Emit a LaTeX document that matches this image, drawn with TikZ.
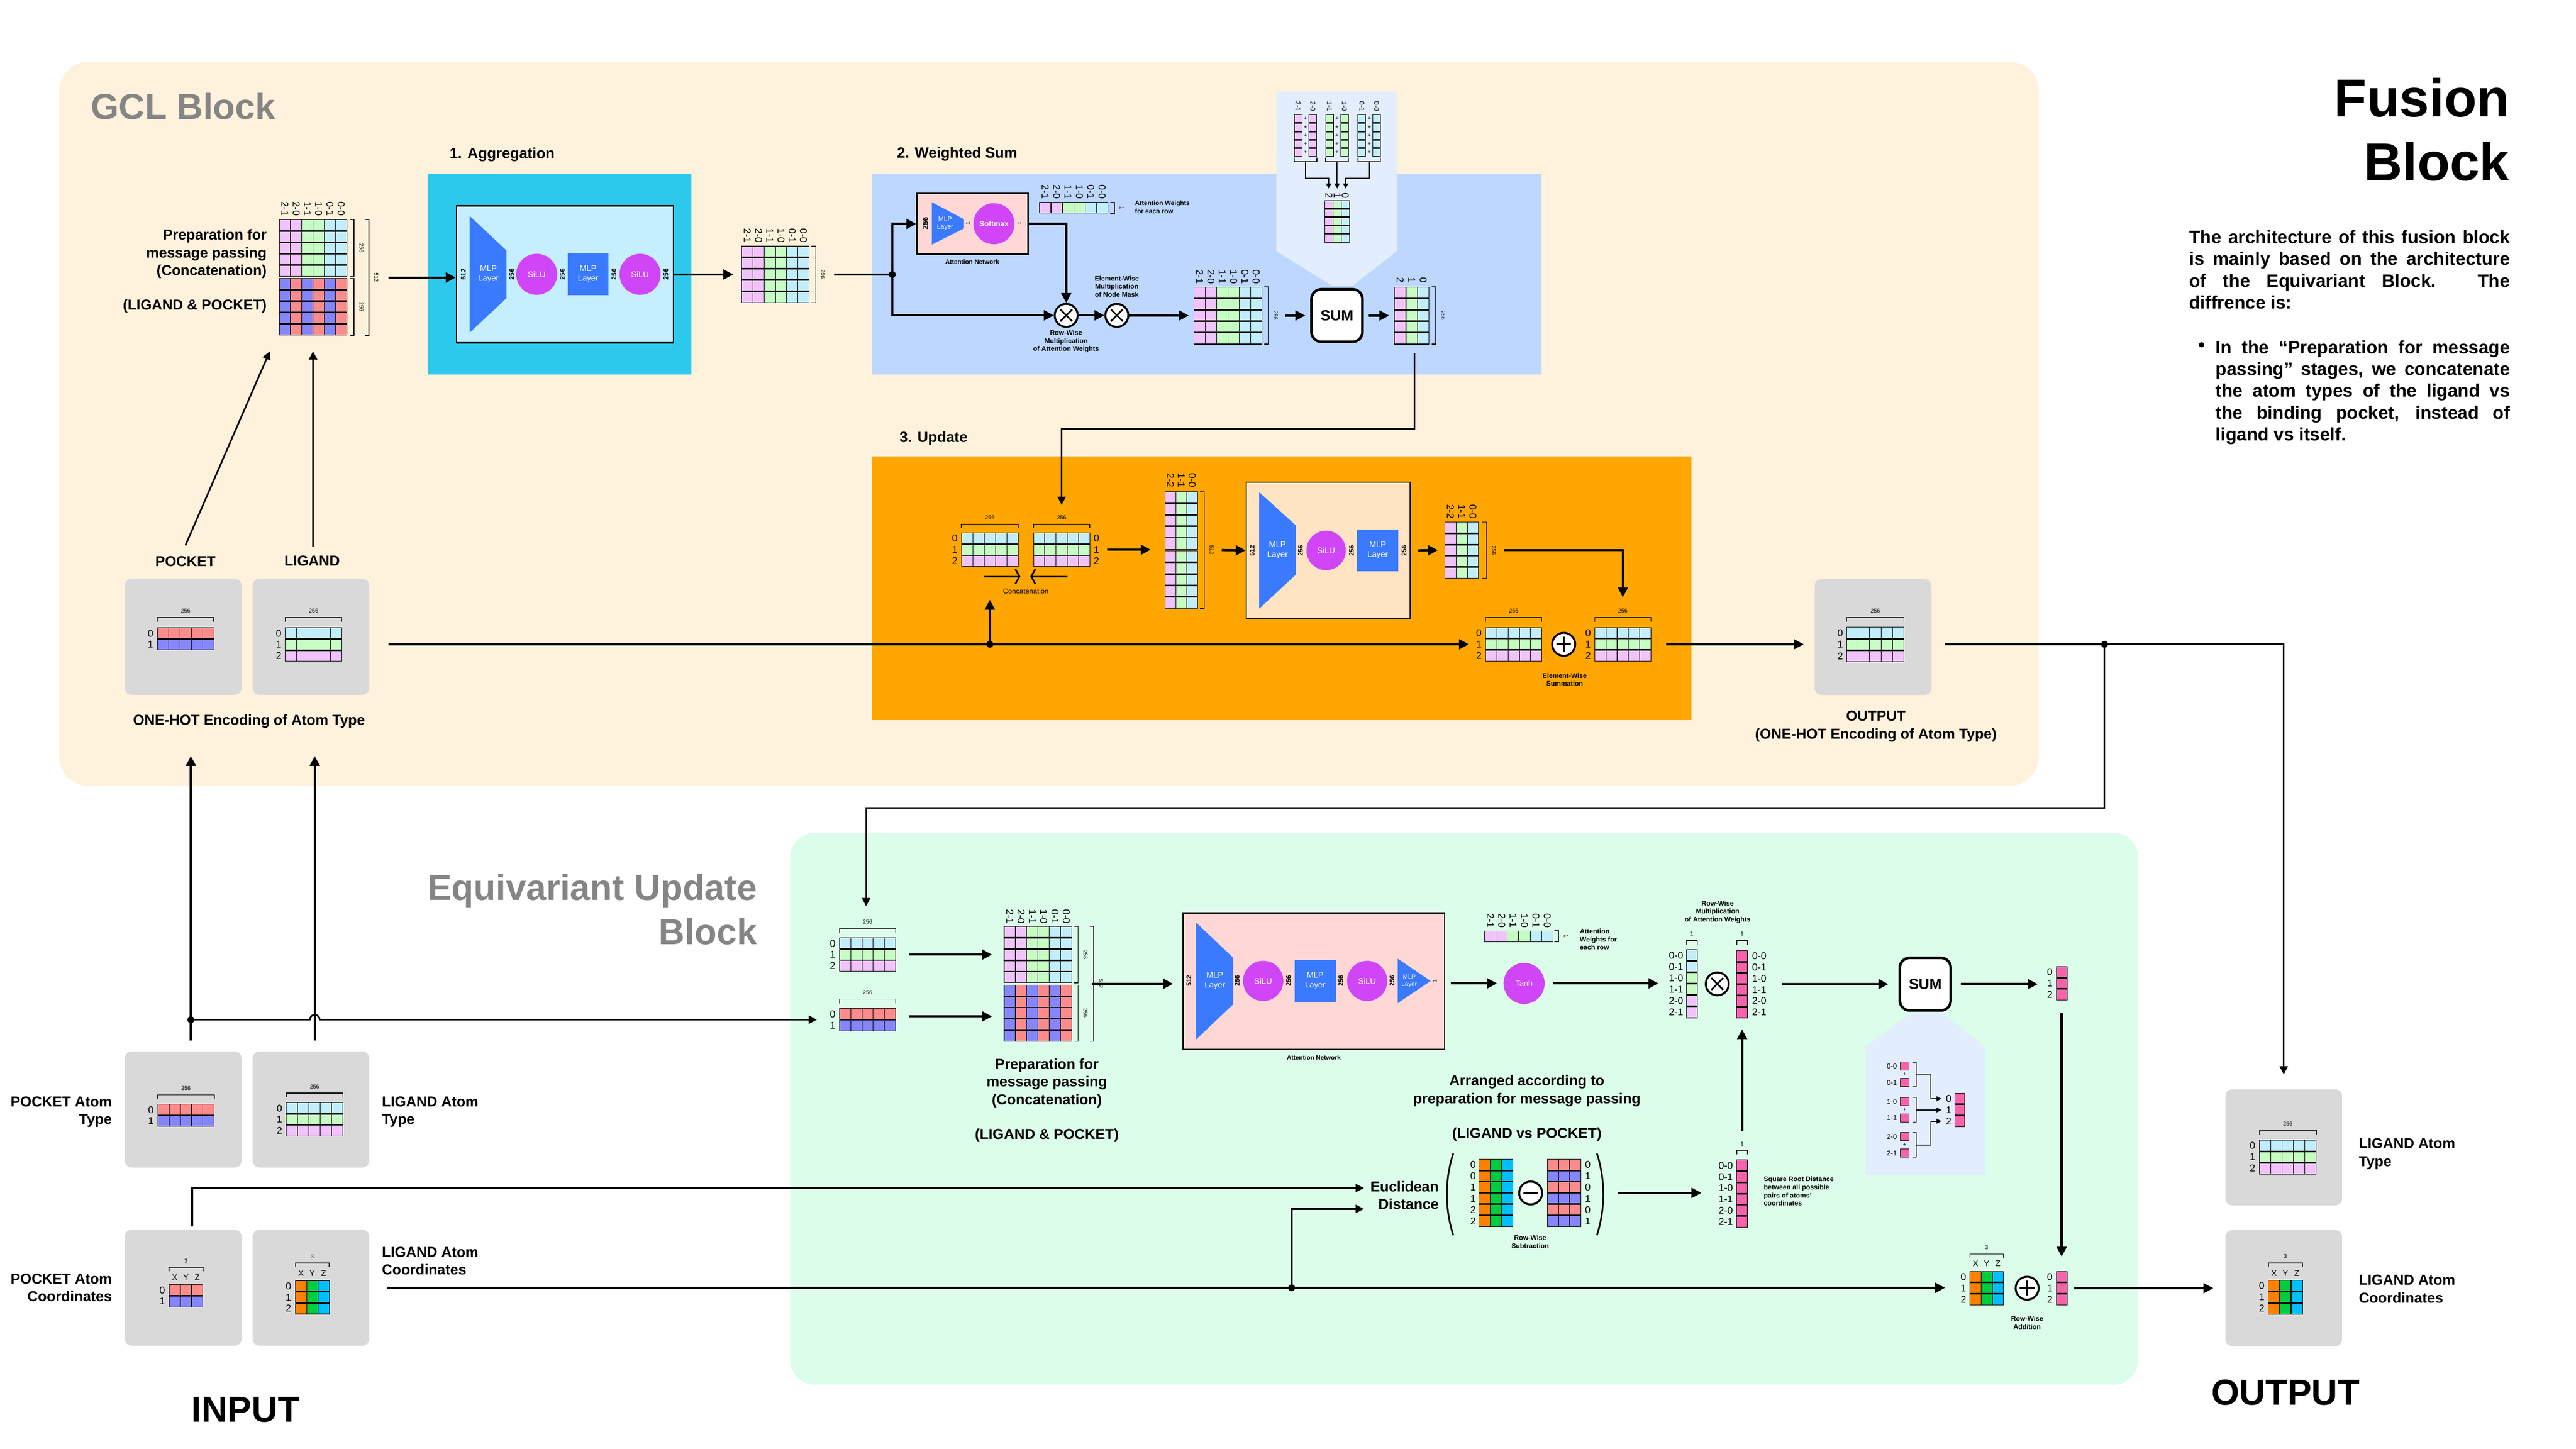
\documentclass[tikz,border=0pt]{standalone}
\usepackage{fontspec}
\setmainfont{Liberation Sans}
\usetikzlibrary{arrows.meta,calc,fit,positioning}

\definecolor{gclBg}{HTML}{FFF2DC}
\definecolor{eqBg}{HTML}{DCFDE9}
\definecolor{aggCyan}{HTML}{2DC9EC}
\definecolor{aggInnerC}{HTML}{C5EEFF}
\definecolor{wsBlue}{HTML}{BDD7FE}
\definecolor{panelBlue}{HTML}{E2EDFE}
\definecolor{updOrange}{HTML}{FFA600}
\definecolor{updPeach}{HTML}{FFE3C3}
\definecolor{attPink}{HTML}{FFD8D6}
\definecolor{mlpBlue}{HTML}{3A7AFE}
\definecolor{siluPurple}{HTML}{D046F6}
\definecolor{cPink}{HTML}{F0C4FA}
\definecolor{cGreen}{HTML}{C6FDC3}
\definecolor{cCyan}{HTML}{C2EEFB}
\definecolor{cBlue}{HTML}{8686FC}
\definecolor{cRed}{HTML}{FC8C8C}
\definecolor{xOrange}{HTML}{FF8000}
\definecolor{yGreen}{HTML}{00CC40}
\definecolor{zCyan}{HTML}{00BFFF}
\definecolor{hotPink}{HTML}{F862AA}
\definecolor{boxGray}{HTML}{D9D9D9}
\definecolor{titleGray}{HTML}{858585}

% matrix coloured by column: name, left, top, cell width, cell height, rows, column colours
\newcommand{\colMatrix}[7]{%
  \foreach \cellColor [count=\ci from 0] in {#7} {
    \foreach \ri in {1,...,#6} {
      \filldraw[matCell, fill=\cellColor] ({#2+\ci*#4},{#3+(\ri-1)*#5}) rectangle ++(#4,#5);
      \ifnum\ri>1 \draw[rowSep] ({#2+\ci*#4},{#3+(\ri-1)*#5}) -- ++(#4,0);\fi
    }
    \coordinate (#1-se) at ({#2+(\ci+1)*#4},{#3+#6*#5});
  }
  \coordinate (#1-nw) at (#2,#3);
  \node[fit=(#1-nw)(#1-se), inner sep=0pt] (#1) {};
}
% matrix coloured by row: name, left, top, cell width, cell height, columns, row colours
\newcommand{\rowMatrix}[7]{%
  \foreach \cellColor [count=\ri from 0] in {#7} {
    \foreach \ci in {1,...,#6} {
      \filldraw[matCell, fill=\cellColor] ({#2+(\ci-1)*#4},{#3+\ri*#5}) rectangle ++(#4,#5);
      \ifnum\ri>0 \draw[rowSep] ({#2+(\ci-1)*#4},{#3+\ri*#5}) -- ++(#4,0);\fi
    }
    \coordinate (#1-se) at ({#2+#6*#4},{#3+(\ri+1)*#5});
  }
  \coordinate (#1-nw) at (#2,#3);
  \node[fit=(#1-nw)(#1-se), inner sep=0pt] (#1) {};
}
\newcommand{\colLabels}[5]{%
  \foreach \lab [count=\k from 0] in {#5} {\node[pairLabel] (#1-lab\k) at ({#2+(\k+0.5)*#4},#3) {\lab};}
}
\newcommand{\rowLabels}[6]{%
  \foreach \lab [count=\k from 0] in {#6} {\node[idx, anchor=#5] (#1-idx\k) at (#2,{#3+(\k+0.5)*#4}) {\lab};}
}
\newcommand{\axisLabels}[4]{%
  \foreach \ax [count=\k from 0] in {X,Y,Z} {\node[idx, font=\fontsize{5}{5}\selectfont] (#1-ax\k) at ({#2+(\k+0.5)*#4},#3) {\ax};}
}
\newcommand{\vBracket}[5]{%
  \draw[brak] ({#2-2.5},#3) -- (#2,#3) -- (#2,#4) -- ({#2-2.5},#4);
  \node[dimLabel, rotate=-90] (#1) at ({#2+4.5},{(#3+#4)/2}) {#5};
}
\newcommand{\hBracket}[5]{%
  \draw[brak] (#2,{#4+2.5}) -- (#2,#4) -- (#3,#4) -- (#3,{#4+2.5});
  \node[dimLabel] (#1) at ({(#2+#3)/2},{#4-4}) {#5};
}

\begin{document}
\begin{tikzpicture}[x=1pt, y=-1pt, >={Triangle[length=6pt,width=6pt]}]

    \tikzstyle{arr}=[->, line width=1.4pt]
    \tikzstyle{thinArr}=[->, line width=1pt, >={Triangle[length=5pt,width=5pt]}]
    \tikzstyle{smallArr}=[->, line width=0.6pt, >={Triangle[length=3pt,width=3pt]}]
    \tikzstyle{concatArr}=[-{Straight Barb[length=2.5pt,width=9pt]}, line width=1pt]
    \tikzstyle{matCell}=[draw=black, line width=0.35pt]
    \tikzstyle{rowSep}=[draw=black, line width=0.9pt]
    \tikzstyle{brak}=[line width=0.45pt]
    \tikzstyle{dimLabel}=[font=\fontsize{3.4}{4}\selectfont, inner sep=0pt]
    \tikzstyle{pairLabel}=[font=\fontsize{6}{6}\selectfont, rotate=-90, anchor=east, inner sep=0pt]
    \tikzstyle{idx}=[font=\fontsize{6}{6}\selectfont, inner sep=0pt]
    \tikzstyle{bigTitle}=[font=\fontsize{22}{26}\selectfont\bfseries, inner sep=0pt]
    \tikzstyle{stepTitle}=[font=\fontsize{9}{10}\selectfont\bfseries, anchor=west, inner sep=0pt]
    \tikzstyle{captionText}=[font=\fontsize{8.8}{10.8}\selectfont\bfseries, align=center, inner sep=0pt]
    \tikzstyle{noteText}=[font=\fontsize{4.1}{4.9}\selectfont\bfseries, align=center, inner sep=0pt]
    \tikzstyle{layerDim}=[font=\fontsize{4}{4}\selectfont\bfseries, rotate=90, inner sep=0pt]
    \tikzstyle{layerText}=[font=\fontsize{5}{6}\selectfont, text=white, align=center, inner sep=0pt]
    \tikzstyle{siluNode}=[circle, fill=siluPurple, minimum size=25pt, inner sep=0pt, font=\fontsize{5}{6}\selectfont, text=white]
    \tikzstyle{mlpSquare}=[rectangle, fill=mlpBlue, minimum width=25pt, minimum height=25.4pt, inner sep=0pt, font=\fontsize{5}{6}\selectfont, text=white, align=center]
    \tikzstyle{sumBox}=[rectangle, rounded corners=6pt, draw=black, line width=1.6pt, fill=white, minimum width=31pt, minimum height=32pt, font=\fontsize{9}{9}\selectfont\bfseries]
    \tikzstyle{atomBox}=[rectangle, rounded corners=4pt, fill=boxGray, minimum width=71pt, minimum height=70.6pt, inner sep=0pt]
    \tikzstyle{netBox}=[rectangle, draw=black, line width=0.8pt, inner sep=0pt]
    \tikzstyle{opCircle}=[circle, draw=black, line width=1.2pt, fill=white, minimum size=14pt, inner sep=0pt]
    \tikzstyle{timesOp}=[opCircle, path picture={\draw[line width=1pt] ([shift={(-3.6pt,-3.6pt)}]path picture bounding box.center) -- ([shift={(3.6pt,3.6pt)}]path picture bounding box.center) ([shift={(-3.6pt,3.6pt)}]path picture bounding box.center) -- ([shift={(3.6pt,-3.6pt)}]path picture bounding box.center);}]
    \tikzstyle{plusOp}=[opCircle, path picture={\draw[line width=1pt] ([xshift=-4.5pt]path picture bounding box.center) -- ([xshift=4.5pt]path picture bounding box.center) ([yshift=-4.5pt]path picture bounding box.center) -- ([yshift=4.5pt]path picture bounding box.center);}]
    \tikzstyle{minusOp}=[opCircle, path picture={\draw[line width=1.4pt] ([xshift=-4.5pt]path picture bounding box.center) -- ([xshift=4.5pt]path picture bounding box.center);}]
    \tikzstyle{joinDot}=[circle, fill=black, minimum size=4.2pt, inner sep=0pt]

    % Canvas
    \fill[white] (0,0) rectangle (1568,882);

    % ================= GCL block =================
    \fill[gclBg, rounded corners=18pt] (36,37.5) rectangle (1241,478.5);
    \node[bigTitle, text=titleGray, anchor=base west] (gclTitle) at (55,72.5) {GCL Block};

    % Preparation for message passing
    \colMatrix{prepTop}{170}{133.8}{6.85}{6.88}{5}{cPink,cPink,cGreen,cGreen,cCyan,cCyan}
    \colMatrix{prepBot}{170}{169.5}{6.85}{6.92}{5}{cBlue,cRed,cBlue,cRed,cBlue,cRed}
    \node[fit=(prepTop)(prepBot), inner sep=0pt] (prepGcl) {};
    \colLabels{prepGcl}{170}{131.5}{6.85}{2-1,2-0,1-1,1-0,0-1,0-0}
    \vBracket{prepDimA}{215.5}{133.8}{168.2}{256}
    \vBracket{prepDimB}{215.5}{169.5}{204.1}{256}
    \vBracket{prepDimC}{224.5}{133.8}{204.1}{512}
    \node[captionText, anchor=east, align=right] (prepGclText) at (162.5,154.6) {Preparation for\\message passing\\(Concatenation)};
    \node[captionText, anchor=east] (prepGclPair) at (162.5,186.4) {(LIGAND \& POCKET)};

    % 1. Aggregation
    \node[stepTitle] (aggTitle) at (273.5,94) {1. Aggregation};
    \node[fill=aggCyan, minimum width=160.6pt, minimum height=122pt, inner sep=0pt] (aggBox) at (340.7,167) {};
    \node[netBox, fill=aggInnerC, minimum width=132.1pt, minimum height=83.5pt] (aggInner) at (343.85,167) {};
    \fill[mlpBlue] (285.9,131.5) -- (308.3,152.5) -- (308.3,181.5) -- (285.9,202.5) -- cycle;
    \node[layerText] (aggMlpA) at (297.3,167) {MLP\\Layer};
    \node[layerDim] (aggDimA) at (282,167) {512};
    \node[layerDim] (aggDimB) at (311.5,167) {256};
    \node[siluNode] (aggSiluA) at (326.7,167) {SiLU};
    \node[layerDim] (aggDimC) at (342.3,167) {256};
    \node[mlpSquare] (aggMlpB) at (358,167) {MLP\\Layer};
    \node[layerDim] (aggDimD) at (373.7,167) {256};
    \node[siluNode] (aggSiluB) at (389.6,167) {SiLU};
    \node[layerDim] (aggDimE) at (405.3,167) {256};
    \draw[arr] ($(prepGcl.east)+(25,0)$) -- (prepGcl.east -| aggInner.west);

    \colMatrix{aggOut}{451.5}{149.9}{6.83}{6.88}{5}{cPink,cPink,cGreen,cGreen,cCyan,cCyan}
    \colLabels{aggOut}{451.5}{148}{6.83}{2-1,2-0,1-1,1-0,0-1,0-0}
    \vBracket{aggOutDim}{496.5}{149.9}{184.3}{256}
    \draw[arr] (aggInner.east |- aggOut.west) -- ($(aggOut.west)+(-5,0)$);

    % 2. Weighted Sum
    \node[stepTitle] (wsTitle) at (545.8,93.8) {2. Weighted Sum};
    \fill[wsBlue] (530.8,106.1) rectangle (938.2,228);
    \fill[panelBlue] (776.9,55.7) -- (850.1,55.7) -- (850.1,153) -- (823.3,174) -- (811,174) -- (776.9,153) -- cycle;
    \colMatrix{sumPinkA}{787.8}{69.8}{4.7}{5.1}{5}{cPink}
    \colMatrix{sumPinkB}{796.8}{69.8}{4.7}{5.1}{5}{cPink}
    \colMatrix{sumGreenA}{806.9}{69.8}{4.7}{5.1}{5}{cGreen}
    \colMatrix{sumGreenB}{816}{69.8}{4.7}{5.1}{5}{cGreen}
    \colMatrix{sumCyanA}{826.6}{69.8}{4.7}{5.1}{5}{cCyan}
    \colMatrix{sumCyanB}{835.6}{69.8}{4.7}{5.1}{5}{cCyan}
    \foreach \px/\lab [count=\k] in {790.15/2-1,799.15/2-0,809.25/1-1,818.35/1-0,828.95/0-1,837.95/0-0}
        \node[pairLabel, font=\fontsize{4.2}{4.2}\selectfont] (sumLab\k) at (\px,68) {\lab};
    \foreach \gx [count=\g] in {794.6,813.8,833.5}
        \foreach \r in {1,...,5}
            \node[idx, font=\fontsize{3.5}{3.5}\selectfont] (sumPlus\g\r) at (\gx,{69.8+(\r-0.5)*5.1}) {+};
    \foreach \bl/\br in {787.8/801.5,806.9/820.7,826.6/840.3}
        \draw[brak] (\bl,96) -- (\bl,98.3) -- (\br,98.3) -- (\br,96);
    \colMatrix{sumRes}{806.4}{122.2}{5}{5.04}{5}{cPink,cGreen,cCyan}
    \colLabels{sumRes}{806.4}{121}{5}{2,1,0}
    \coordinate (sumPairA) at (794.6,98.3);
    \coordinate (sumPairB) at (813.9,98.3);
    \coordinate (sumPairC) at (833.5,98.3);
    \draw[smallArr] (sumPairA) -- ++(0,10.2) -| ($(sumRes.north west)+(2.5,-7.2)$);
    \draw[smallArr] (sumPairB) -- ($(sumRes.north)+(0,-7.2)$);
    \draw[smallArr] (sumPairC) -- ++(0,10.2) -| ($(sumRes.north east)+(-2.5,-7.2)$);

    % attention network
    \node[netBox, fill=attPink, minimum width=67.6pt, minimum height=37pt] (attGcl) at (591.9,136.3) {};
    \fill[mlpBlue] (567.2,123.1) -- (586.8,133.5) -- (586.8,139) -- (567.2,148.9) -- cycle;
    \node[layerText, font=\fontsize{4}{4.8}\selectfont] (attGclMlp) at (575.3,136) {MLP\\Layer};
    \node[layerDim, font=\fontsize{4.5}{4.5}\selectfont\bfseries] (attGclDimA) at (563.3,136) {256};
    \node[layerDim, font=\fontsize{3.4}{3.4}\selectfont] (attGclDimB) at (589.2,136) {1};
    \node[siluNode, font=\fontsize{4.5}{4.5}\selectfont\bfseries] (attGclSoft) at (605,136.2) {Softmax};
    \node[layerDim, font=\fontsize{3.4}{3.4}\selectfont] (attGclDimC) at (620.4,136) {1};
    \node[noteText, font=\fontsize{3.8}{4.5}\selectfont\bfseries] (attGclText) at (591.8,159.5) {Attention Network};

    \colMatrix{attGclW}{632.8}{123.1}{6.92}{6.7}{1}{cPink,cPink,cGreen,cGreen,cCyan,cCyan}
    \colLabels{attGclW}{632.8}{121.3}{6.92}{2-1,2-0,1-1,1-0,0-1,0-0}
    \vBracket{attGclWDim}{678.3}{123.1}{129.8}{1}
    \node[noteText, align=left, anchor=west, font=\fontsize{3.9}{4.9}\selectfont\bfseries] (attGclWText) at (690.7,126) {Attention Weights\\for each row};

    \node[joinDot] (wsJoin) at (543.1,167.1) {};
    \node[timesOp] (wsMaskA) at (649,192) {};
    \node[timesOp] (wsMaskB) at (679.8,192) {};
    \draw[line width=1.4pt] ($(aggOut.east)+(15,0)$) -- (wsJoin.center);
    \draw[arr] (wsJoin.center) |- (attGcl.west);
    \draw[arr] (wsJoin.center) |- (wsMaskA.west);
    \draw[arr] (attGcl.east) -| (wsMaskA.north);
    \draw[arr] (wsMaskA) -- (wsMaskB);
    \node[noteText] (wsMaskAText) at (648.9,207.9) {Row-Wise\\Multiplication\\of Attention Weights};
    \node[noteText] (wsMaskBText) at (679.8,174.4) {Element-Wise\\Multiplication\\of Node Mask};

    \colMatrix{wsMat}{726.8}{174.7}{6.88}{6.96}{5}{cPink,cPink,cGreen,cGreen,cCyan,cCyan}
    \colLabels{wsMat}{726.8}{173}{6.88}{2-1,2-0,1-1,1-0,0-1,0-0}
    \vBracket{wsMatDim}{772}{174.7}{209.5}{256}
    \draw[arr] (wsMaskB) -- ($(wsMat.west)+(-3,0)$);
    \node[sumBox] (wsSum) at (813.8,192.1) {SUM};
    \draw[arr] ($(wsMat.east)+(14.2,0)$) -- ($(wsSum.west)+(-3,0)$);
    \colMatrix{wsRes}{848.8}{174.7}{7}{6.96}{5}{cPink,cGreen,cCyan}
    \colLabels{wsRes}{848.8}{172.5}{7}{2,1,0}
    \vBracket{wsResDim}{874}{174.7}{209.5}{256}
    \draw[arr] ($(wsSum.east)+(3,0)$) -- ($(wsRes.west)+(-3,0)$);

    % 3. Update
    \node[stepTitle] (updTitle) at (547.4,267) {3. Update};
    \fill[updOrange] (530.8,277.7) rectangle (1029.5,438.3);
    \rowMatrix{updA}{585.2}{324.4}{6.92}{6.83}{5}{cCyan,cGreen,cPink}
    \rowLabels{updA}{583}{324.4}{6.83}{east}{0,1,2}
    \hBracket{updADim}{585.2}{619.8}{319}{256}
    \rowMatrix{updB}{629.1}{324.4}{6.84}{6.83}{5}{cCyan,cGreen,cPink}
    \rowLabels{updB}{665.5}{324.4}{6.83}{west}{0,1,2}
    \hBracket{updBDim}{629.1}{663.3}{319}{256}
    \draw[thinArr] ($(wsRes.south)+(1.7,5.5)$) -- ++(0,46) -| ($(updB.north)+(0,-16.8)$);
    \coordinate (catL) at (598.9,351);
    \coordinate (catR) at (649.7,351);
    \draw[concatArr] (catL) -- ++(22.2,0);
    \draw[concatArr] (catR) -- ++(-22.6,0);
    \node[noteText, font=\fontsize{4.3}{4.3}\selectfont] (catText) at (624.4,359.8) {Concatenation};

    \colMatrix{updTallA}{709.1}{299.4}{6.63}{7}{5}{cPink,cGreen,cCyan}
    \colMatrix{updTallB}{709.1}{335.4}{6.63}{7}{5}{cPink,cGreen,cCyan}
    \node[fit=(updTallA)(updTallB), inner sep=0pt] (updTall) {};
    \colLabels{updTall}{709.1}{297}{6.63}{2-2,1-1,0-0}
    \vBracket{updTallDim}{733}{299.4}{370.4}{512}
    \draw[arr] ($(updB.east)+(10.3,0)$) -- ($(updB.east -| updTall.west)+(-8.3,0)$);

    \node[netBox, fill=updPeach, minimum width=99.9pt, minimum height=83.2pt] (updMlp) at (808.55,335.1) {};
    \fill[mlpBlue] (766.5,299.7) -- (788.8,319.9) -- (788.8,349.8) -- (766.5,370.5) -- cycle;
    \node[layerText] (updMlpA) at (777.6,335.1) {MLP\\Layer};
    \node[layerDim] (updDimA) at (762.2,335.1) {512};
    \node[layerDim] (updDimB) at (791.6,335.1) {256};
    \node[siluNode, minimum size=24pt] (updSilu) at (807.2,335.1) {SiLU};
    \node[layerDim] (updDimC) at (822.6,335.1) {256};
    \node[mlpSquare] (updMlpB) at (838.6,335.1) {MLP\\Layer};
    \node[layerDim] (updDimD) at (854.6,335.1) {256};
    \draw[arr] ($(updTall.east)+(14.3,0)$) -- (updMlp.west);

    \colMatrix{updOut}{879.4}{317.8}{6.87}{6.86}{5}{cPink,cGreen,cCyan}
    \colLabels{updOut}{879.4}{316}{6.87}{2-2,1-1,0-0}
    \vBracket{updOutDim}{904.8}{317.8}{352.1}{256}
    \draw[arr] ($(updMlp.east)+(4.3,0)$) -- ($(updOut.west)+(-4,0)$);

    \rowMatrix{updC}{904.3}{382}{6.84}{6.83}{5}{cCyan,cGreen,cPink}
    \rowLabels{updC}{902}{382}{6.83}{east}{0,1,2}
    \hBracket{updCDim}{904.3}{938.5}{376}{256}
    \node[plusOp] (updPlus) at (951.8,392.25) {};
    \rowMatrix{updD}{970.7}{382}{6.84}{6.83}{5}{cCyan,cGreen,cPink}
    \rowLabels{updD}{968.5}{382}{6.83}{east}{0,1,2}
    \hBracket{updDDim}{970.7}{1004.9}{376}{256}
    \node[noteText] (updPlusText) at (952.4,413.7) {Element-Wise\\Summation};
    \draw[arr] ($(updOut.east)+(15.3,0)$) -| ($(updD.north)+(0,-18.2)$);

    % one-hot inputs of the GCL block
    \node[captionText] (pocketText) at (112.9,341.8) {POCKET};
    \node[captionText] (ligandText) at (190,341.5) {LIGAND};
    \node[atomBox] (pocketGcl) at (111.5,387.7) {};
    \node[atomBox] (ligGcl) at (189.25,387.7) {};
    \rowMatrix{pocketGclMat}{95.8}{382.2}{6.88}{6.7}{5}{cRed,cBlue}
    \rowLabels{pocketGclMat}{93.5}{382.2}{6.7}{east}{0,1}
    \hBracket{pocketGclDim}{95.8}{130.2}{376}{256}
    \rowMatrix{ligGclMat}{173.7}{382.2}{6.88}{6.8}{5}{cCyan,cGreen,cPink}
    \rowLabels{ligGclMat}{171.5}{382.2}{6.8}{east}{0,1,2}
    \hBracket{ligGclDim}{173.7}{208.1}{376}{256}
    \node[captionText] (oneHotText) at (151.6,439.2) {ONE-HOT Encoding of Atom Type};
    \draw[thinArr] ($(pocketText.north)+(0,-6.5)$) -- ($(prepGcl.south west)+(-5.4,9.4)$);
    \draw[thinArr] ($(ligandText.north -| prepGcl.south)+(0,-5)$) -- ($(prepGcl.south)+(0,9.4)$);

    \node[joinDot] (updJoin) at (602.5,392.25) {};
    \draw[arr, line width=1.2pt] ($(ligGcl.east |- updC.west)+(11.6,0)$) -- ($(updC.west)+(-10,0)$);
    \draw[arr] (updJoin.center) -- ($(updA.south)+(0,20.1)$);

    % output of the GCL block
    \node[atomBox] (outGcl) at (1140.1,387.8) {};
    \rowMatrix{outGclMat}{1124.1}{381.9}{6.96}{7}{5}{cCyan,cGreen,cPink}
    \rowLabels{outGclMat}{1122}{381.9}{7}{east}{0,1,2}
    \hBracket{outGclDim}{1124.1}{1158.9}{376}{256}
    \node[captionText] (outGclText) at (1141.8,442.2) {OUTPUT\\(ONE-HOT Encoding of Atom Type)};
    \draw[arr, line width=1.2pt] ($(updD.east)+(9,0)$) -- ($(outGcl.west |- updD.east)+(-6.5,0)$);

    % ================= Fusion text =================
    \node[font=\fontsize{32.5}{33}\selectfont\bfseries, anchor=base east, inner sep=0pt] (fusionTitleA) at (1527.6,71) {Fusion};
    \node[font=\fontsize{32.5}{33}\selectfont\bfseries, anchor=base east, inner sep=0pt] (fusionTitleB) at (1527.6,110) {Block};
    \node[font=\fontsize{11}{13.3}\selectfont\bfseries, text width=195.2pt, align=justify, anchor=north west, inner sep=0pt] (fusionText) at (1332.4,140) {The architecture of this fusion block\linebreak is mainly based on the architecture\linebreak of the Equivariant Block. The\linebreak diffrence is:};
    \node[font=\fontsize{11}{13.3}\selectfont\bfseries, inner sep=0pt] (fusionDot) at (1340.1,211.2) {\textbullet};
    \node[font=\fontsize{11}{13.3}\selectfont\bfseries, text width=179.1pt, align=justify, anchor=north west, inner sep=0pt] (fusionBullet) at (1348.5,207) {In the “Preparation for message\linebreak passing” stages, we concatenate\linebreak the atom types of the ligand vs\linebreak the binding pocket, instead of\linebreak ligand vs itself.};

    % ================= Equivariant Update block =================
    \fill[eqBg, rounded corners=15pt] (481,507) rectangle (1301.4,843);
    \node[bigTitle, text=titleGray, anchor=base east] (eqTitleA) at (461,548) {Equivariant Update};
    \node[bigTitle, text=titleGray, anchor=base east] (eqTitleB) at (461,575) {Block};

    \rowMatrix{eqE}{511}{571}{6.84}{6.77}{5}{cCyan,cGreen,cPink}
    \rowLabels{eqE}{508.7}{571}{6.77}{east}{0,1,2}
    \hBracket{eqEDim}{511}{545.2}{565.3}{256}
    \rowMatrix{eqF}{511}{614}{6.84}{6.8}{5}{cRed,cBlue}
    \rowLabels{eqF}{508.7}{614}{6.8}{east}{0,1}
    \hBracket{eqFDim}{511}{545.2}{608.3}{256}

    \node[joinDot] (fuseJoin) at (1281,392.25) {};
    \coordinate (fuseTurn) at (1281,491.8);
    \draw[line width=1.2pt] ($(outGcl.east |- updD.east)+(8,0)$) -- (fuseJoin.center);
    \draw[thinArr] (fuseJoin.center) -- (fuseTurn) -| ($(eqE.north)+(-0.9,-19.1)$);

    \colMatrix{eqGTop}{611.2}{564}{6.88}{6.86}{5}{cPink,cPink,cGreen,cGreen,cCyan,cCyan}
    \colMatrix{eqGBot}{611.2}{599.7}{6.88}{6.84}{5}{cBlue,cRed,cBlue,cRed,cBlue,cRed}
    \node[fit=(eqGTop)(eqGBot), inner sep=0pt] (eqG) {};
    \colLabels{eqG}{611.2}{562.5}{6.88}{2-1,2-0,1-1,1-0,0-1,0-0}
    \vBracket{eqGDimA}{656.2}{564}{598.3}{256}
    \vBracket{eqGDimB}{656.2}{599.7}{633.9}{256}
    \vBracket{eqGDimC}{665.6}{564}{633.9}{512}
    \draw[arr] ($(eqE.east)+(8.1,0)$) -- ($(eqE.east -| eqGTop.west)+(-7.2,0)$);
    \draw[arr] ($(eqF.east)+(8.1,-2)$) -- ($(eqF.east -| eqGBot.west)+(-7.2,-2)$);
    \node[captionText] (prepEqText) at (637.2,659.4) {Preparation for\\message passing\\(Concatenation)};
    \node[captionText] (prepEqPair) at (637.2,691.1) {(LIGAND \& POCKET)};

    % attention network
    \node[netBox, fill=attPink, minimum width=159.1pt, minimum height=83pt] (eqAtt) at (799.75,597.3) {};
    \fill[mlpBlue] (728,561.6) -- (750.6,583.1) -- (750.6,611.4) -- (728,632.9) -- cycle;
    \node[layerText] (eqAttMlpA) at (739.5,597.2) {MLP\\Layer};
    \node[layerDim] (eqAttDimA) at (723.6,597.2) {512};
    \node[layerDim] (eqAttDimB) at (753.1,597.2) {256};
    \node[siluNode, minimum size=24.5pt] (eqAttSiluA) at (768.9,597.2) {SiLU};
    \node[layerDim] (eqAttDimC) at (784.3,597.2) {256};
    \node[mlpSquare] (eqAttMlpB) at (800.6,597.2) {MLP\\Layer};
    \node[layerDim] (eqAttDimD) at (816.1,597.2) {256};
    \node[siluNode, minimum size=24.5pt] (eqAttSiluB) at (832.2,597.2) {SiLU};
    \node[layerDim] (eqAttDimE) at (847.3,597.2) {256};
    \fill[mlpBlue] (850.8,583.7) -- (870.8,597.2) -- (850.8,610.7) -- cycle;
    \node[layerText, font=\fontsize{3.8}{4.5}\selectfont] (eqAttMlpC) at (857.8,597.2) {MLP\\Layer};
    \node[layerDim, font=\fontsize{3.4}{3.4}\selectfont] (eqAttDimF) at (873.3,597.2) {1};
    \node[noteText, font=\fontsize{3.8}{4.5}\selectfont\bfseries] (eqAttText) at (799.7,644) {Attention Network};
    \draw[arr] ($(eqG.east)+(11.7,0)$) -- ($(eqG.east -| eqAtt.west)+(-5.8,0)$);

    \node[siluNode, font=\fontsize{4.8}{4.8}\selectfont] (eqTanh) at (927.7,598.7) {Tanh};
    \draw[arr] ($(eqAtt.east |- eqTanh.west)+(3.4,0)$) -- ($(eqTanh.west)+(-3.8,0)$);
    \colMatrix{eqAttW}{903.7}{566.7}{6.93}{6.6}{1}{cPink,cPink,cGreen,cGreen,cCyan,cCyan}
    \colLabels{eqAttW}{903.7}{565}{6.93}{2-1,2-0,1-1,1-0,0-1,0-0}
    \vBracket{eqAttWDim}{948.7}{566.7}{573.3}{1}
    \node[noteText, align=left, anchor=west] (eqAttWText) at (961.5,571.8) {Attention\\Weights for\\each row};
    \node[captionText] (arrangeText) at (929.4,664.2) {Arranged according to\\preparation for message passing};
    \node[captionText] (arrangePair) at (929.4,690.5) {(LIGAND vs POCKET)};

    % row-wise multiplication
    \rowMatrix{eqV1}{1026.5}{578.1}{6.7}{6.93}{1}{cCyan,cCyan,cGreen,cGreen,cPink,cPink}
    \rowLabels{eqV1}{1024.7}{578.1}{6.93}{east}{0-0,0-1,1-0,1-1,2-0,2-1}
    \hBracket{eqV1Dim}{1026.5}{1033.2}{572.6}{1}
    \node[timesOp] (eqTimes) at (1045.3,599) {};
    \rowMatrix{eqV2}{1057.1}{578.7}{6.6}{6.83}{1}{hotPink,hotPink,hotPink,hotPink,hotPink,hotPink}
    \rowLabels{eqV2}{1066.3}{578.7}{6.83}{west}{0-0,0-1,1-0,1-1,2-0,2-1}
    \hBracket{eqV2Dim}{1057.1}{1063.7}{572.6}{1}
    \node[noteText] (eqTimesText) at (1045.5,555.2) {Row-Wise\\Multiplication\\of Attention Weights};
    \draw[arr] ($(eqTanh.east)+(5.1,0)$) -- ($(eqV1.west |- eqTanh.east)+(-16.9,0)$);

    \node[sumBox] (eqSum) at (1171.9,599.15) {SUM};
    \draw[arr] ($(eqV2.east)+(20.8,0)$) -- ($(eqSum.west)+(-6.2,0)$);
    \rowMatrix{eqRes}{1251.6}{588.4}{6.6}{6.83}{1}{hotPink,hotPink,hotPink}
    \rowLabels{eqRes}{1249.6}{588.4}{6.83}{east}{0,1,2}
    \draw[arr] ($(eqSum.east)+(5.2,0)$) -- ($(eqSum.east -| eqRes.west)+(-11.1,0)$);

    % sum detail panel
    \fill[panelBlue] (1163.1,616.7) -- (1181.9,616.7) -- (1208.4,637.2) -- (1208.4,715.4) -- (1135.4,715.4) -- (1135.4,637.2) -- cycle;
    \foreach \cy/\lab [count=\k] in {646.6/0-0,656.6/0-1,668.1/1-0,678.1/1-1,689.6/2-0,699.5/2-1} {
        \filldraw[matCell, fill=hotPink] (1156.6,\cy) rectangle ++(5.4,5);
        \node[idx, font=\fontsize{4.2}{4.2}\selectfont, anchor=east] (sumCell\k) at (1154.8,{\cy+2.5}) {\lab};
    }
    \foreach \py [count=\k] in {654,675.5,697}
        \node[idx, font=\fontsize{3.5}{3.5}\selectfont] (eqPairPlus\k) at (1159.3,\py) {+};
    \foreach \tY/\bY in {646.6/661.6,668.1/683.1,689.6/704.5}
        \draw[brak] (1164,\tY) -- (1166.4,\tY) -- (1166.4,\bY) -- (1164,\bY);
    \rowMatrix{eqPart}{1189.8}{665.5}{6.2}{6.83}{1}{hotPink,hotPink,hotPink}
    \rowLabels{eqPart}{1188}{665.5}{6.83}{east}{0,1,2}
    \coordinate (pairOutA) at (1166.4,654);
    \coordinate (pairOutB) at (1166.4,675.75);
    \coordinate (pairOutC) at (1166.4,697);
    \draw[smallArr] (pairOutA) -- ++(8.8,0) |- ($(eqPart.west)+(-7.9,-6.83)$);
    \draw[smallArr] (pairOutB) -- ($(eqPart.west)+(-7.9,0)$);
    \draw[smallArr] (pairOutC) -- ++(8.8,0) |- ($(eqPart.west)+(-7.9,6.83)$);

    % euclidean distance
    \node[captionText, align=right, anchor=east] (euclidText) at (875.9,727.7) {Euclidean\\Distance};
    \coordinate (euclidInA) at (830.2,723.3);
    \coordinate (euclidInB) at (830.2,736);
    \draw[line width=1pt] (884.6,702.2) .. controls (879.4,718) and (879.4,736) .. (884.6,752);
    \draw[line width=1pt] (972,702.2) .. controls (977.2,718) and (977.2,736) .. (972,752);
    \colMatrix{eqL}{900.3}{705.7}{6.87}{6.85}{6}{xOrange,yGreen,zCyan}
    \rowLabels{eqL}{898.5}{705.7}{6.85}{east}{0,0,1,1,2,2}
    \node[minusOp] (eqMinus) at (931.7,726.3) {};
    \rowMatrix{eqP}{941.9}{705.7}{6.77}{6.85}{3}{cRed,cBlue,cRed,cBlue,cRed,cBlue}
    \rowLabels{eqP}{964.6}{705.7}{6.85}{west}{0,1,0,1,0,1}
    \node[noteText] (eqMinusText) at (931.4,756) {Row-Wise\\Subtraction};

    \rowMatrix{eqSq}{1057.1}{706.2}{6.6}{6.83}{1}{hotPink,hotPink,hotPink,hotPink,hotPink,hotPink}
    \rowLabels{eqSq}{1055}{706.2}{6.83}{east}{0-0,0-1,1-0,1-1,2-0,2-1}
    \hBracket{eqSqDim}{1057.1}{1063.7}{700.4}{1}
    \node[noteText, align=left, anchor=west] (eqSqText) at (1073.4,725.2) {Square Root Distance\\between all possible\\pairs of atoms'\\coordinates};
    \draw[arr] ($(eqP.east)+(22.7,0)$) -- ($(eqSq.west |- eqP.east)+(-21.3,0)$);
    \draw[arr] ($(eqSq.north)+(0,-17.2)$) -- ($(eqV2.south)+(0,6.8)$);

    % coordinate update
    \colMatrix{eqCoord}{1199.1}{774}{6.8}{6.83}{3}{xOrange,yGreen,zCyan}
    \rowLabels{eqCoord}{1197}{774}{6.83}{east}{0,1,2}
    \axisLabels{eqCoord}{1199.1}{769.4}{6.8}
    \hBracket{eqCoordDim}{1199.1}{1219.5}{763.5}{3}
    \node[plusOp] (eqPlus) at (1233.9,784.25) {};
    \rowMatrix{eqRes2}{1251.6}{774}{6.6}{6.83}{1}{hotPink,hotPink,hotPink}
    \rowLabels{eqRes2}{1249.6}{774}{6.83}{east}{0,1,2}
    \node[noteText] (eqPlusText) at (1233.9,805.3) {Row-Wise\\Addition};
    \draw[arr] ($(eqRes.south)+(0,7.8)$) -- ($(eqRes2.north)+(0,-8.8)$);

    % ================= Inputs =================
    \node[atomBox] (pocketType) at (111.5,675.5) {};
    \rowMatrix{pocketTypeMat}{96}{672.3}{6.88}{6.7}{5}{cRed,cBlue}
    \rowLabels{pocketTypeMat}{93.7}{672.3}{6.7}{east}{0,1}
    \hBracket{pocketTypeDim}{96}{130.4}{666.5}{256}
    \node[atomBox] (ligType) at (189.25,675.5) {};
    \rowMatrix{ligTypeMat}{174.3}{671.3}{6.88}{6.8}{5}{cCyan,cGreen,cPink}
    \rowLabels{ligTypeMat}{172}{671.3}{6.8}{east}{0,1,2}
    \hBracket{ligTypeDim}{174.3}{208.7}{665.5}{256}
    \node[atomBox] (pocketCoord) at (111.5,784) {};
    \rowMatrix{pocketCoordMat}{102.9}{782}{6.87}{6.85}{3}{cRed,cBlue}
    \rowLabels{pocketCoordMat}{100.6}{782}{6.85}{east}{0,1}
    \axisLabels{pocketCoordMat}{102.9}{777.6}{6.87}
    \hBracket{pocketCoordDim}{102.9}{123.5}{771.6}{3}
    \node[atomBox] (ligCoord) at (189.25,784) {};
    \colMatrix{ligCoordMat}{179.8}{779.6}{6.87}{6.8}{3}{xOrange,yGreen,zCyan}
    \rowLabels{ligCoordMat}{177.5}{779.6}{6.8}{east}{0,1,2}
    \axisLabels{ligCoordMat}{179.8}{775.3}{6.87}
    \hBracket{ligCoordDim}{179.8}{200.4}{769}{3}

    \node[captionText, align=right, anchor=east] (pocketTypeText) at (68.3,677) {POCKET Atom\\Type};
    \node[captionText, align=left, anchor=west] (ligTypeText) at (232.3,677) {LIGAND Atom\\Type};
    \node[captionText, align=right, anchor=east] (pocketCoordText) at (68.3,784) {POCKET Atom\\Coordinates};
    \node[captionText, align=left, anchor=west] (ligCoordText) at (232.3,767.7) {LIGAND Atom\\Coordinates};
    \node[bigTitle, anchor=base] (inputText) at (149.6,865.7) {INPUT};

    \node[joinDot] (inJoin) at (116.2,620.8) {};
    \coordinate (pocketUp) at (116.2,460.3);
    \coordinate (ligandUp) at (191.6,460.3);
    \draw[arr] ($(pocketType.north)+(4.7,-6.4)$) -- (pocketUp);
    \draw[arr] ($(ligType.north)+(2.35,-6.4)$) -- (ligandUp);
    \draw[thinArr] (inJoin.center) -- (188.6,620.8) arc (180:360:3) -- ($(eqF.west)+(-13.6,0)$);
    \draw[thinArr] ($(pocketCoord.north)+(5.5,-1.7)$) |- (euclidInA);
    \node[joinDot] (coordJoin) at (786.2,784) {};
    \draw[thinArr] (coordJoin.center) |- (euclidInB);
    \draw[arr, line width=1.2pt] ($(ligCoord.east)+(11,0)$) -- ($(eqCoord.west |- ligCoord.east)+(-15,0)$);

    % ================= Outputs =================
    \node[atomBox] (outLig) at (1390.1,698.5) {};
    \rowMatrix{outLigMat}{1375.2}{694.1}{6.94}{6.87}{5}{cCyan,cGreen,cPink}
    \rowLabels{outLigMat}{1373}{694.1}{6.87}{east}{0,1,2}
    \hBracket{outLigDim}{1375.2}{1409.9}{688.2}{256}
    \node[atomBox] (outCoord) at (1390.1,784.2) {};
    \colMatrix{outCoordMat}{1380.7}{779.4}{6.93}{6.87}{3}{xOrange,yGreen,zCyan}
    \rowLabels{outCoordMat}{1378.5}{779.4}{6.87}{east}{0,1,2}
    \axisLabels{outCoordMat}{1380.7}{775.2}{6.93}
    \hBracket{outCoordDim}{1380.7}{1401.5}{768.9}{3}
    \node[captionText, align=left, anchor=west] (outLigText) at (1435.6,702.5) {LIGAND Atom\\Type};
    \node[captionText, align=left, anchor=west] (outCoordText) at (1435.6,784.7) {LIGAND Atom\\Coordinates};
    \node[bigTitle, anchor=base] (outputText) at (1391.2,855.4) {OUTPUT};

    \draw[thinArr] (fuseJoin.center) -| ($(outLig.north)+(0,-8.9)$);
    \draw[arr] ($(eqRes2.east)+(4,0)$) -- ($(outCoord.west |- eqRes2.east)+(-7.2,0)$);

\end{tikzpicture}
\end{document}
